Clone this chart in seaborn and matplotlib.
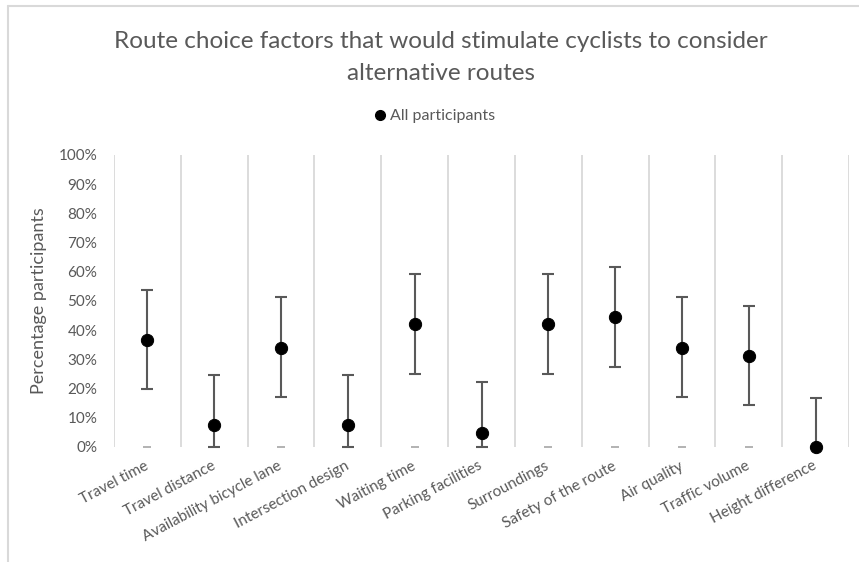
import matplotlib
matplotlib.use("Agg")
import matplotlib.pyplot as plt
from matplotlib.lines import Line2D
from matplotlib.ticker import FixedLocator, PercentFormatter
import matplotlib.transforms as mtransforms
import seaborn as sns
import pandas as pd

factors = ["Travel time", "Travel distance", "Availability bicycle lane",
           "Intersection design", "Waiting time", "Parking facilities",
           "Surroundings", "Safety of the route", "Air quality",
           "Traffic volume", "Height difference"]
share = [36.6, 7.5, 34.0, 7.5, 42.0, 4.7, 42.0, 44.4, 34.0, 31.2, 0.0]
err_low = [16.8, 7.5, 16.9, 7.5, 17.1, 4.7, 17.1, 16.9, 16.9, 16.8, 0.0]
err_high = [17.2, 17.2, 17.4, 17.2, 17.1, 17.5, 17.1, 17.2, 17.4, 17.2, 16.9]
baseline = [0] * len(factors)

df = pd.DataFrame({"factor": factors, "share": share, "base": baseline})

grey_text = "#595959"
sns.set_theme(style="white")
plt.rcParams["font.family"] = ["Lato", "DejaVu Sans"]

fig = plt.figure(figsize=(8.59, 5.62), dpi=100)
ax = fig.add_axes([114 / 859, 1 - 447 / 562, (849 - 114) / 859, (447 - 155) / 562])

x = list(range(len(factors)))

# small dashes on the zero line
ax.scatter(x, df["base"], marker="_", s=40, color="#a6a6a6", linewidths=1.2,
           zorder=2, clip_on=False)

ax.errorbar(x, df["share"], yerr=[err_low, err_high], fmt="none",
            ecolor=grey_text, elinewidth=1.5, capsize=4, capthick=1.5,
            zorder=3, clip_on=False)

sns.scatterplot(data=df, x=x, y="share", color="black", s=78,
                edgecolor="black", zorder=4, ax=ax, clip_on=False, legend=False)

ax.set_xlim(-0.5, len(factors) - 0.5)
ax.set_ylim(0, 100)
ax.set_yticks(range(0, 101, 10))
ax.yaxis.set_major_formatter(PercentFormatter(decimals=0))
ax.set_xticks(x)
ax.set_xticklabels(factors, rotation=28, ha="right", va="center",
                   rotation_mode="anchor")
shift = mtransforms.ScaledTranslation(6 / 100, 0, fig.dpi_scale_trans)
for lbl in ax.get_xticklabels():
    lbl.set_transform(lbl.get_transform() + shift)
ax.xaxis.set_minor_locator(FixedLocator([i - 0.5 for i in range(len(factors) + 1)]))
ax.grid(False)
ax.grid(True, which="minor", axis="x", color="#d9d9d9", linewidth=1.3)
ax.tick_params(axis="both", which="both", length=0, colors=grey_text, labelsize=11)
ax.tick_params(axis="y", pad=12)
ax.tick_params(axis="x", pad=13)
for s in ax.spines.values():
    s.set_visible(False)

ax.set_xlabel("")
ax.set_ylabel("Percentage participants", color=grey_text, fontsize=13, labelpad=8)

fig.text(0.513, 1 - 42 / 562, "Route choice factors that would stimulate cyclists to consider",
         ha="center", va="center", fontsize=17.5, color=grey_text)
fig.text(0.513, 1 - 74 / 562, "alternative routes",
         ha="center", va="center", fontsize=17.5, color=grey_text)

handle = Line2D([], [], marker="o", color="black", linestyle="none", markersize=7)
fig.legend([handle], ["All participants"], loc="center", bbox_to_anchor=(0.505, 1 - 116 / 562),
           frameon=False, fontsize=11.5, labelcolor=grey_text, handletextpad=0.1,
           handlelength=1.0)

# chart border (top and left edges visible)
bx, by = 7.5 / 859, 1 - 5.5 / 562
fig.add_artist(Line2D([bx, 1.0], [by, by], transform=fig.transFigure,
                      color="#d9d9d9", linewidth=1.5))
fig.add_artist(Line2D([bx, bx], [0.0, by], transform=fig.transFigure,
                      color="#d9d9d9", linewidth=1.5))

fig.savefig("out.png", dpi=100)
